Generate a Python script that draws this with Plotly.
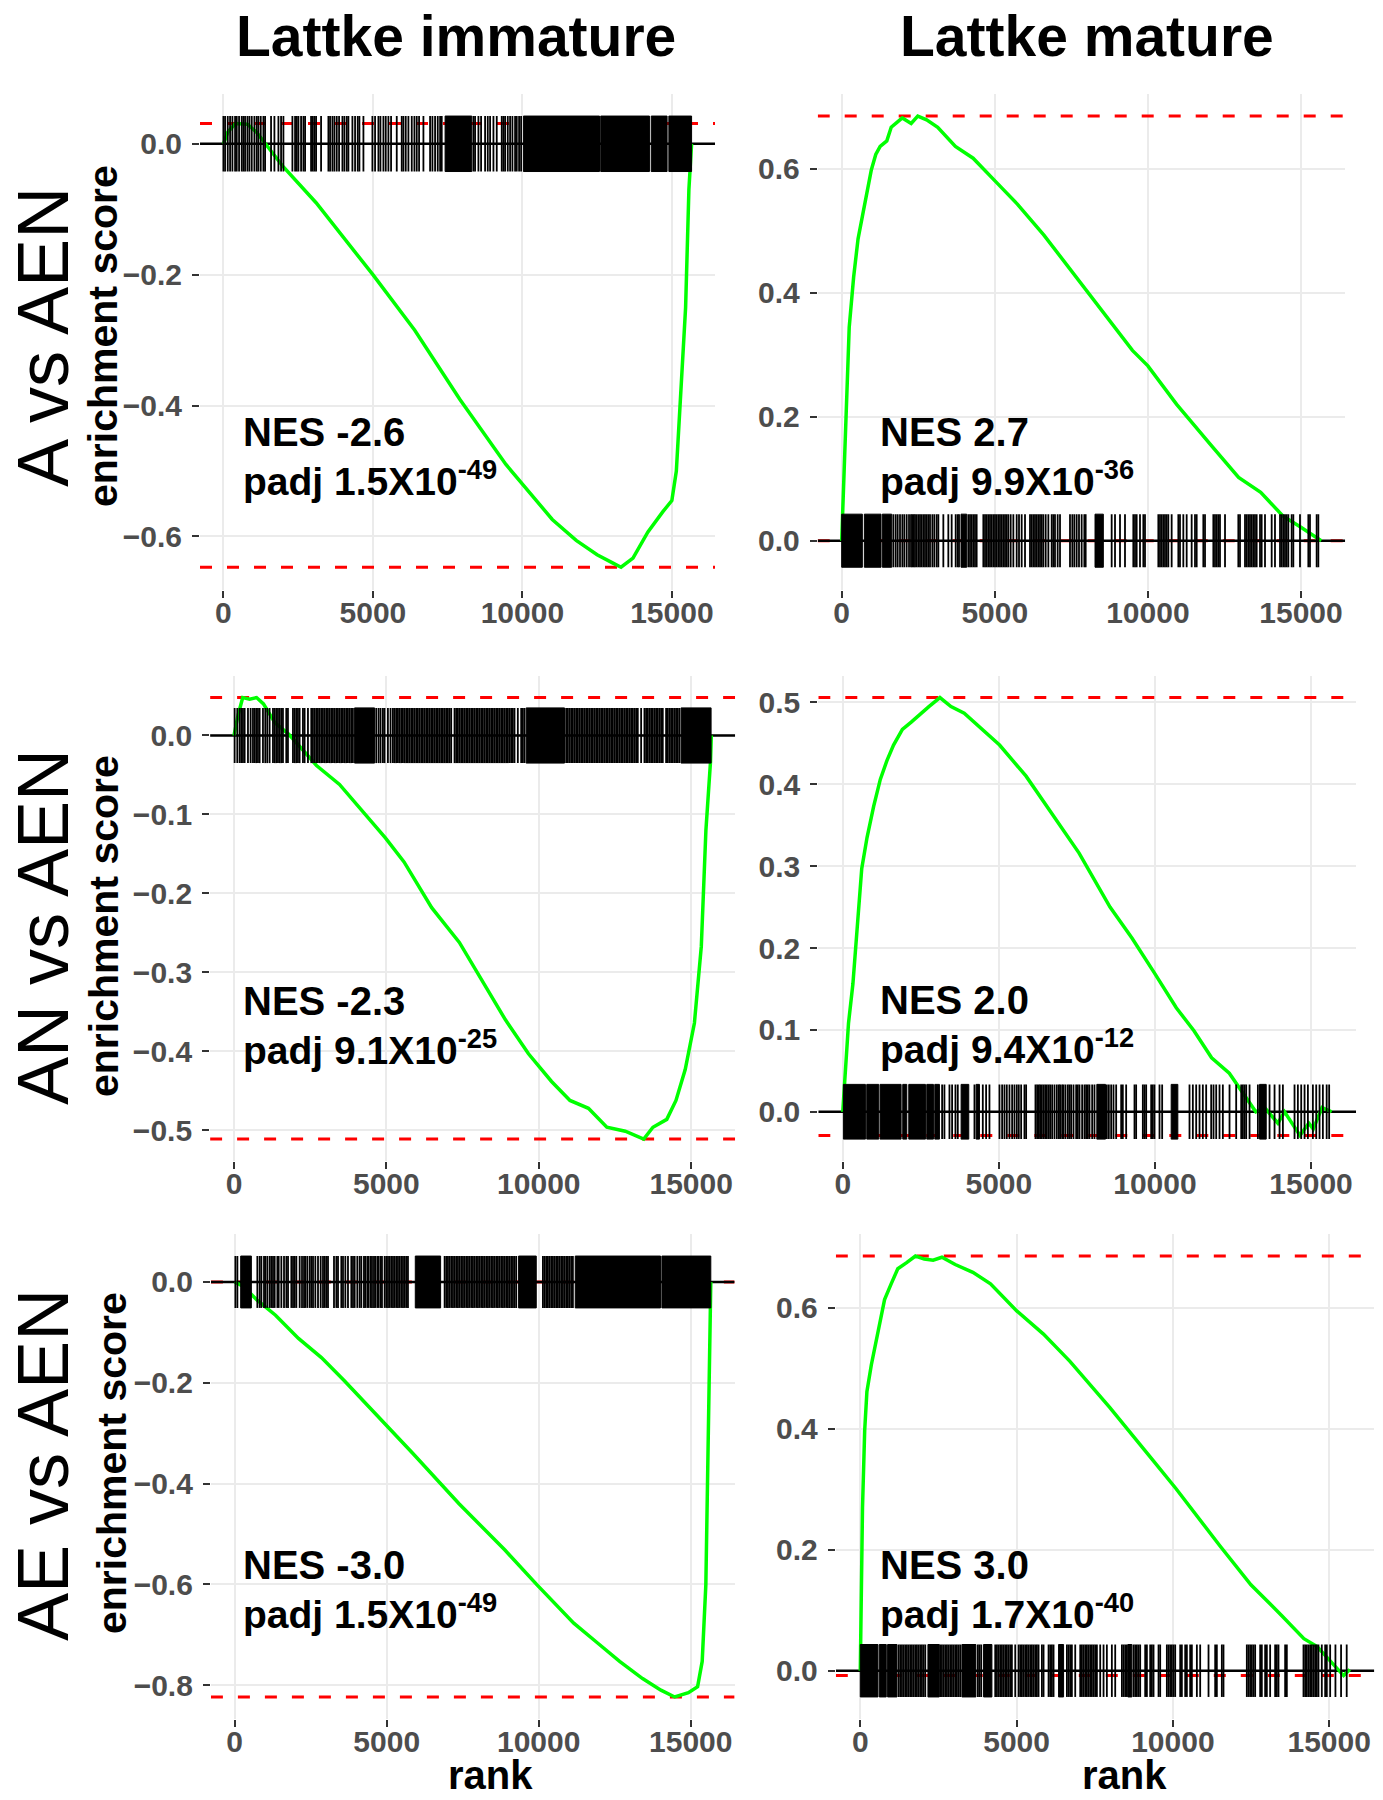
import plotly.graph_objects as go

# ---------------- DATA ----------------
N_GENES = 15660
col_titles = ["Lattke immature", "Lattke mature"]
row_titles = ["A vs AEN", "AN vs AEN", "AE vs AEN"]
nes_values = ["-2.6", "2.7", "-2.3", "2.0", "-3.0", "3.0"]
padj_mant = ["1.5", "9.9", "9.1", "9.4", "1.5", "1.7"]
padj_exp = ["-49", "-36", "-25", "-12", "-49", "-40"]
x_tick_vals = [0, 5000, 10000, 15000]
y_dticks = [0.2, 0.2, 0.1, 0.1, 0.2, 0.2]

# Panel 1: A vs AEN, Lattke immature
p1_rank = [0, 150, 400, 800, 1100, 1400, 2000, 3100, 5000, 6400, 7900, 9450, 11000, 11800,
           12500, 13000, 13300, 13700, 14200, 14700, 15000, 15150, 15280, 15460, 15570, 15660]
p1_es = [0, 0.018, 0.031, 0.030, 0.018, 0.0, -0.035, -0.09, -0.2, -0.285, -0.39, -0.49, -0.574, -0.606,
         -0.628, -0.64, -0.647, -0.633, -0.593, -0.562, -0.545, -0.50, -0.40, -0.25, -0.07, 0.0]
p1_ticks = [0, 56, 145, 223, 301, 390, 446, 524, 613, 669, 725, 803, 870, 948, 1037, 1115, 1171, 1249,
            1338, 1394, 1594, 1706, 1840, 1929, 2007, 2308, 2397, 2453, 2509, 2598, 2676, 2732, 2932,
            2988, 3044, 3100, 3267, 3512, 3568, 3646, 3713, 3791, 3869, 3981, 4047, 4126, 4181, 4315,
            4404, 4493, 4549, 4683, 4984, 5073, 5185, 5252, 5352, 5430, 5519, 5608, 5798, 5965, 6021,
            6099, 6188, 6300, 6389, 6467, 6545, 6690, 6913, 6991, 7080, 7169, 7248, 7303, 8363, 8418,
            8530, 8619, 8753, 8842, 8920, 9032, 9143, 9310, 9366, 9422, 9511, 9589, 9667, 9756, 9812,
            9890, 9957]
p1_block_start = [7415, 10035, 12620, 14310, 14900]
p1_block_end = [8307, 12580, 14250, 14840, 15660]

# Panel 2: A vs AEN, Lattke mature
p2_rank = [0, 100, 173, 246, 390, 535, 679, 824, 968, 1113, 1257, 1474, 1618, 1835, 1980, 2269, 2485,
           2774, 3136, 3714, 4292, 5014, 5737, 6604, 8049, 9494, 9999, 10939, 12095, 12962, 13684,
           14407, 14985, 15660]
p2_es = [0, 0.127, 0.251, 0.344, 0.425, 0.487, 0.524, 0.561, 0.598, 0.623, 0.636, 0.645, 0.667, 0.676,
         0.682, 0.673, 0.685, 0.679, 0.667, 0.636, 0.617, 0.58, 0.543, 0.493, 0.40, 0.307, 0.282, 0.22,
         0.152, 0.102, 0.078, 0.040, 0.022, 0.0]
p2_ticks = [1687, 1763, 1829, 1905, 1981, 2046, 2123, 2199, 2264, 2308, 2351, 2395, 2449, 2504, 2558,
            2612, 2667, 2721, 2776, 2830, 2885, 2961, 3026, 3102, 3157, 3320, 3483, 3592, 3723, 3788,
            3832, 4136, 4191, 4245, 4300, 4354, 4408, 4626, 4681, 4735, 4789, 4844, 4898, 4953, 5007,
            5061, 5116, 5170, 5225, 5279, 5334, 5388, 5443, 5519, 5606, 5715, 5791, 5878, 5987, 6150,
            6204, 6259, 6313, 6368, 6422, 6477, 6531, 6585, 6662, 6749, 6858, 6912, 6966, 7053, 7130,
            7456, 7532, 7598, 7674, 7750, 7837, 7924, 7968, 8817, 8926, 9089, 9252, 9524, 9579, 9633,
            9742, 9851, 9905, 10341, 10395, 10450, 10504, 10558, 10613, 10667, 10776, 10994, 11048,
            11157, 11266, 11429, 11538, 11593, 11810, 11865, 12137, 12191, 12246, 12300, 12354, 12518,
            12953, 13008, 13171, 13225, 13280, 13334, 13389, 13443, 13497, 13552, 13661, 13715, 13824,
            14042, 14150, 14314, 14368, 14423, 14477, 14531, 14586, 14695, 14749, 14967, 15239, 15293,
            15511, 15566]
p2_block_start = [0, 740, 1328, 3897, 8273]
p2_block_end = [675, 1284, 1633, 4082, 8545]

# Panel 3: AN vs AEN, Lattke immature
p3_rank = [0, 136, 287, 514, 741, 968, 1346, 1799, 2253, 2707, 3462, 4218, 4974, 5579, 6486, 7394,
           7998, 8906, 9662, 10418, 11023, 11628, 12232, 12837, 13442, 13744, 14198, 14500, 14803,
           15105, 15331, 15482, 15633, 15660]
p3_es = [0, 0.026, 0.048, 0.046, 0.048, 0.040, 0.016, 0.0015, -0.018, -0.038, -0.062, -0.096, -0.13,
         -0.16, -0.218, -0.262, -0.301, -0.36, -0.403, -0.438, -0.462, -0.472, -0.496, -0.501, -0.511,
         -0.496, -0.486, -0.462, -0.423, -0.364, -0.267, -0.12, -0.033, 0.0]
p3_ticks = [22, 109, 186, 240, 295, 350, 459, 547, 623, 678, 732, 787, 842, 951, 1027, 1093, 1169,
            1279, 1333, 1388, 1443, 1497, 1552, 1607, 1716, 1771, 1935, 1989, 2044, 2099, 2153, 2263,
            2317, 2427, 2536, 2590, 2645, 2700, 2754, 2809, 2864, 2918, 2973, 3028, 3082, 3137, 3192,
            3246, 3301, 3356, 3410, 3465, 3519, 3574, 3629, 3683, 3738, 3793, 3847, 3902, 4667, 4744,
            4809, 4886, 4940, 5050, 5137, 5214, 5268, 5323, 5378, 5432, 5487, 5542, 5596, 5651, 5705,
            5760, 5815, 5869, 5924, 5979, 6033, 6088, 6143, 6197, 6252, 6307, 6361, 6416, 6470, 6525,
            6580, 6634, 6689, 6744, 6798, 6853, 6908, 6962, 7017, 7072, 7126, 7236, 7290, 7345, 7400,
            7454, 7509, 7564, 7618, 7673, 7727, 7782, 7837, 7891, 7946, 8001, 8055, 8110, 8165, 8219,
            8274, 8329, 8383, 8438, 8493, 8547, 8602, 8657, 8711, 8766, 8821, 8875, 8930, 8985, 9039,
            9094, 9148, 9203, 9312, 9422, 9476, 9531, 10897, 10952, 11006, 11061, 11116, 11170, 11225,
            11280, 11334, 11389, 11444, 11498, 11553, 11608, 11662, 11717, 11772, 11826, 11881, 11936,
            11990, 12045, 12100, 12154, 12209, 12264, 12318, 12373, 12428, 12482, 12537, 12591, 12646,
            12701, 12755, 12810, 12865, 12919, 12974, 13029, 13083, 13138, 13193, 13247, 13357, 13466,
            13520, 13575, 13630, 13684, 13739, 13794, 13848, 13903, 13958, 14012, 14067, 14176, 14231,
            14286, 14340, 14395, 14450, 14504, 14559, 14613]
p3_block_start = [3957, 9586, 14668]
p3_block_end = [4612, 10843, 15652]

# Panel 4: AN vs AEN, Lattke mature
p4_rank = [0, 71, 184, 325, 467, 608, 778, 990, 1203, 1415, 1627, 1910, 2193, 2476, 2759, 3113, 3467,
           3891, 4457, 5023, 5872, 6721, 7570, 8561, 9268, 9976, 10683, 11249, 11815, 12381, 12806,
           13230, 13513, 13938, 14150, 14645, 14928, 15070, 15352, 15565, 15660]
p4_es = [0, 0.042, 0.108, 0.156, 0.226, 0.297, 0.335, 0.373, 0.406, 0.429, 0.448, 0.467, 0.476, 0.486,
         0.495, 0.506, 0.495, 0.487, 0.467, 0.448, 0.41, 0.363, 0.316, 0.25, 0.212, 0.17, 0.127, 0.099,
         0.066, 0.047, 0.024, 0.0, 0.005, -0.014, 0.0, -0.029, -0.014, -0.021, 0.005, 0.002, 0.0]
p4_ticks = [3183, 3257, 3418, 3503, 3610, 3685, 4219, 4486, 4592, 4699, 5020, 5105, 5180, 5255, 5340,
            5425, 5500, 5575, 5639, 5714, 5820, 5874, 6173, 6226, 6280, 6323, 6376, 6429, 6483, 6536,
            6590, 6643, 6707, 6782, 6857, 6921, 6963, 7027, 7070, 7134, 7209, 7262, 7316, 7391, 7476,
            7529, 7583, 7668, 7743, 7796, 7850, 7903, 7989, 8063, 8459, 8523, 8597, 8672, 8758, 8918,
            8971, 9078, 9345, 9398, 9612, 9665, 9719, 9879, 9932, 9986, 10146, 10231, 11107, 11214,
            11321, 11428, 11534, 11641, 11801, 11876, 11962, 12068, 12175, 12389, 12602, 12763, 12816,
            12869, 12923, 13030, 13297, 13670, 13831, 13991, 14098, 14471, 14578, 14685, 14792, 14899,
            15059, 15166, 15272, 15379, 15500, 15580]
p4_block_start = [21, 769, 1196, 1922, 2115, 2691, 2948, 3791, 4272, 8138, 10520, 13350]
p4_block_end = [726, 1153, 1869, 2051, 2649, 2905, 3097, 4037, 4379, 8416, 10733, 13564]

# Panel 5: AE vs AEN, Lattke immature
p5_rank = [0, 287, 739, 1343, 2098, 2852, 3607, 4934, 5870, 7379, 8888, 9945, 11152, 11906, 12661,
           13416, 14019, 14472, 14925, 15226, 15377, 15497, 15558, 15618, 15660]
p5_es = [0, -0.009, -0.036, -0.066, -0.112, -0.15, -0.196, -0.28, -0.341, -0.44, -0.532, -0.601,
         -0.677, -0.715, -0.753, -0.787, -0.81, -0.8235, -0.815, -0.803, -0.753, -0.601, -0.372,
         -0.143, 0.0]
p5_ticks = [22, 88, 745, 822, 877, 964, 1008, 1074, 1151, 1206, 1260, 1315, 1403, 1447, 1534, 1622,
            1699, 1754, 1863, 1918, 1973, 2028, 2137, 2214, 2280, 2324, 2389, 2466, 2521, 2576, 2652,
            2740, 2828, 2904, 2959, 3014, 3069, 3266, 3343, 3398, 3507, 3562, 3639, 3726, 3836, 3891,
            3946, 4033, 4110, 4165, 4252, 4296, 4362, 4406, 4472, 4516, 4581, 4625, 4691, 4735, 4800,
            4844, 4932, 4987, 5042, 5096, 5151, 5206, 5261, 5316, 5370, 5425, 5480, 5535, 5590, 5644,
            5699, 6905, 6960, 7014, 7069, 7124, 7179, 7234, 7288, 7343, 7398, 7453, 7508, 7562, 7617,
            7672, 7727, 7782, 7836, 7891, 7946, 8001, 8056, 8110, 8165, 8220, 8275, 8330, 8384, 8439,
            8494, 8549, 8604, 8658, 8713, 8768, 8823, 8878, 8932, 8987, 9042, 9097, 9152, 9206, 9261,
            10138, 10193, 10248, 10302, 10357, 10412, 10467, 10522, 10576, 10631, 10686, 10741, 10796,
            10850, 10905, 10960, 11015, 11070, 11124]
p5_block_start = [197, 5940, 9338, 11201, 14051]
p5_block_end = [548, 6773, 9919, 14007, 15660]

# Panel 6: AE vs AEN, Lattke mature
p6_rank = [0, 28, 71, 141, 212, 353, 494, 635, 777, 988, 1200, 1483, 1765, 2048, 2330, 2612, 3036,
           3601, 4166, 5013, 5860, 6707, 7978, 9390, 10096, 11508, 12496, 13485, 14191, 14614, 15038,
           15461, 15660]
p6_es = [0, 0.142, 0.269, 0.397, 0.461, 0.505, 0.543, 0.575, 0.613, 0.639, 0.664, 0.674, 0.685, 0.680,
         0.678, 0.683, 0.671, 0.658, 0.639, 0.594, 0.556, 0.511, 0.435, 0.346, 0.301, 0.206, 0.142,
         0.091, 0.053, 0.040, 0.015, -0.008, 0.002]
p6_ticks = [1226, 1279, 1333, 1386, 1439, 1492, 1546, 1599, 1652, 1706, 1759, 1812, 1866, 1919, 1972,
            2025, 2079, 2558, 2612, 2665, 2718, 2772, 2825, 2878, 2932, 2985, 3038, 3091, 3145, 3198,
            3763, 3816, 3870, 4317, 4371, 4424, 4477, 4531, 4584, 4637, 4690, 4744, 4797, 4850, 4957,
            5064, 5117, 5170, 5223, 5277, 5330, 5383, 5437, 5490, 5543, 5597, 5650, 5703, 5810, 5863,
            6023, 6076, 6130, 6183, 6609, 6663, 6716, 6769, 6876, 7036, 7089, 7142, 7196, 7249, 7302,
            7355, 7409, 7462, 7515, 7569, 7675, 7782, 7888, 8048, 8155, 8368, 8421, 8475, 8528, 8741,
            8795, 8848, 8901, 8954, 9114, 9168, 9274, 9328, 9381, 9541, 9594, 9807, 9861, 9914, 9967,
            10020, 10074, 10234, 10287, 10394, 10447, 10553, 10607, 10767, 10873, 11140, 11353, 11406,
            11566, 11619, 12365, 12418, 12472, 12525, 12578, 12632, 12792, 12845, 12951, 13005, 13111,
            13271, 13325, 13378, 13591, 13645, 14178, 14231, 14284, 14338, 14391, 14444, 14497, 14551,
            14604, 14657, 14764, 14871, 14924, 15031, 15200, 15380, 15560]
p6_block_start = [0, 608, 874, 2164, 3251, 3944, 6343, 8560]
p6_block_end = [565, 831, 1173, 2526, 3699, 4211, 6503, 8688]

panels = [
    (p1_rank, p1_es, p1_ticks, p1_block_start, p1_block_end),
    (p2_rank, p2_es, p2_ticks, p2_block_start, p2_block_end),
    (p3_rank, p3_es, p3_ticks, p3_block_start, p3_block_end),
    (p4_rank, p4_es, p4_ticks, p4_block_start, p4_block_end),
    (p5_rank, p5_es, p5_ticks, p5_block_start, p5_block_end),
    (p6_rank, p6_es, p6_ticks, p6_block_start, p6_block_end),
]

# ---------------- LAYOUT GEOMETRY (pixels) ----------------
W, H = 1383, 1800
panel_px = [  # left, right, top, bottom
    (200.0, 715.0, 93.5, 589.8),
    (817.7, 1345.2, 93.5, 589.8),
    (210.1, 735.2, 675.5, 1161.2),
    (818.3, 1356.1, 675.5, 1161.2),
    (210.9, 734.6, 1234.0, 1719.0),
    (835.8, 1374.3, 1234.0, 1719.0),
]

FONT = "Liberation Sans"
fig = go.Figure()
x_lo, x_hi = -0.05 * N_GENES, 1.05 * N_GENES

for i, (rk, es, ticks, bs, be) in enumerate(panels):
    k = i + 1
    xa, ya = ("x", "y") if k == 1 else (f"x{k}", f"y{k}")
    es_max, es_min = max(es), min(es)
    half = (es_max - es_min) / 16.0
    lo, hi = min(es_min, -half), max(es_max, half)
    pad = 0.05 * (hi - lo)

    for v in (es_max, es_min):
        fig.add_trace(go.Scatter(x=[x_lo, x_hi], y=[v, v], mode="lines", xaxis=xa, yaxis=ya,
                                 line=dict(color="#FF0000", width=3, dash="12px,15px"),
                                 hoverinfo="skip", showlegend=False))
    fig.add_trace(go.Scatter(x=[x_lo, x_hi], y=[0, 0], mode="lines", xaxis=xa, yaxis=ya,
                             line=dict(color="black", width=2.5), hoverinfo="skip", showlegend=False))
    fig.add_trace(go.Scatter(x=rk, y=es, mode="lines", xaxis=xa, yaxis=ya,
                             line=dict(color="#00FF00", width=3.5), showlegend=False))
    tx, ty = [], []
    for t in ticks:
        tx += [t, t, None]
        ty += [-half, half, None]
    fig.add_trace(go.Scatter(x=tx, y=ty, mode="lines", xaxis=xa, yaxis=ya,
                             line=dict(color="black", width=1.8), hoverinfo="skip", showlegend=False))
    bx, by = [], []
    for s, e in zip(bs, be):
        bx += [s, e, e, s, s, None]
        by += [-half, -half, half, half, -half, None]
    fig.add_trace(go.Scatter(x=bx, y=by, mode="lines", fill="toself", fillcolor="black", xaxis=xa, yaxis=ya,
                             line=dict(color="black", width=1), hoverinfo="skip", showlegend=False))

    l, r, t, b = panel_px[i]
    tickfont = dict(family=FONT, size=30, color="#4D4D4D", weight="bold")
    fig.layout[("xaxis" if k == 1 else f"xaxis{k}")] = dict(
        domain=[l / W, r / W], range=[x_lo, x_hi], anchor=ya, tickvals=x_tick_vals, tickformat="d",
        showgrid=True, gridcolor="#EBEBEB", gridwidth=2, zeroline=False, showline=False,
        ticks="outside", ticklen=7, tickwidth=2, tickcolor="#333333", tickfont=tickfont,
        ticklabelstandoff=-11)
    fig.layout[("yaxis" if k == 1 else f"yaxis{k}")] = dict(
        domain=[1 - b / H, 1 - t / H], range=[lo - pad, hi + pad], anchor=xa,
        tick0=0, dtick=y_dticks[i], tickformat=".1f",
        showgrid=True, gridcolor="#EBEBEB", gridwidth=2, zeroline=False, showline=False,
        ticks="outside", ticklen=7, tickwidth=2, tickcolor="#333333", tickfont=tickfont,
        ticklabelstandoff=4)

annotations = []
for cx, txt in zip([456, 1087], col_titles):
    annotations.append(dict(x=cx / W, y=1 - 2 / H, xref="paper", yref="paper", text=txt, showarrow=False,
                            xanchor="center", yanchor="top",
                            font=dict(family=FONT, size=57, color="black", weight="bold")))
for cy, txt in zip([337, 927, 1465], row_titles):
    annotations.append(dict(x=43 / W, y=1 - cy / H, xref="paper", yref="paper", text=txt, showarrow=False,
                            textangle=-90, xanchor="center", yanchor="middle",
                            font=dict(family=FONT, size=72, color="black")))
for cx, cy in zip([103, 104, 112], [336, 926, 1463]):
    annotations.append(dict(x=cx / W, y=1 - cy / H, xref="paper", yref="paper", text="enrichment score",
                            showarrow=False, textangle=-90, xanchor="center", yanchor="middle",
                            font=dict(family=FONT, size=41, color="black", weight="bold")))
for cx in [490, 1124]:
    annotations.append(dict(x=cx / W, y=1 / H, xref="paper", yref="paper", text="rank",
                            showarrow=False, xanchor="center", yanchor="bottom",
                            font=dict(family=FONT, size=40, color="black", weight="bold")))
nes_pos = [(241, 432), (878, 432), (241, 1001), (878, 1000), (241, 1565), (878, 1565)]
for i, (px, py) in enumerate(nes_pos):
    annotations.append(dict(x=px / W, y=1 - py / H, xref="paper", yref="paper",
                            text=f"NES {nes_values[i]}", showarrow=False, xanchor="left", yanchor="middle",
                            font=dict(family=FONT, size=40, color="black", weight="bold")))
    annotations.append(dict(x=px / W, y=1 - (py + 46) / H, xref="paper", yref="paper",
                            text=f"padj {padj_mant[i]}X10<sup>{padj_exp[i]}</sup>", showarrow=False,
                            xanchor="left", yanchor="middle",
                            font=dict(family=FONT, size=39, color="black", weight="bold")))

fig.update_layout(width=W, height=H, margin=dict(l=0, r=0, t=0, b=0),
                  paper_bgcolor="white", plot_bgcolor="white", showlegend=False,
                  annotations=annotations)
fig.write_html("out.html", config={"displayModeBar": False},
               post_script="document.body.style.margin='0px';")
